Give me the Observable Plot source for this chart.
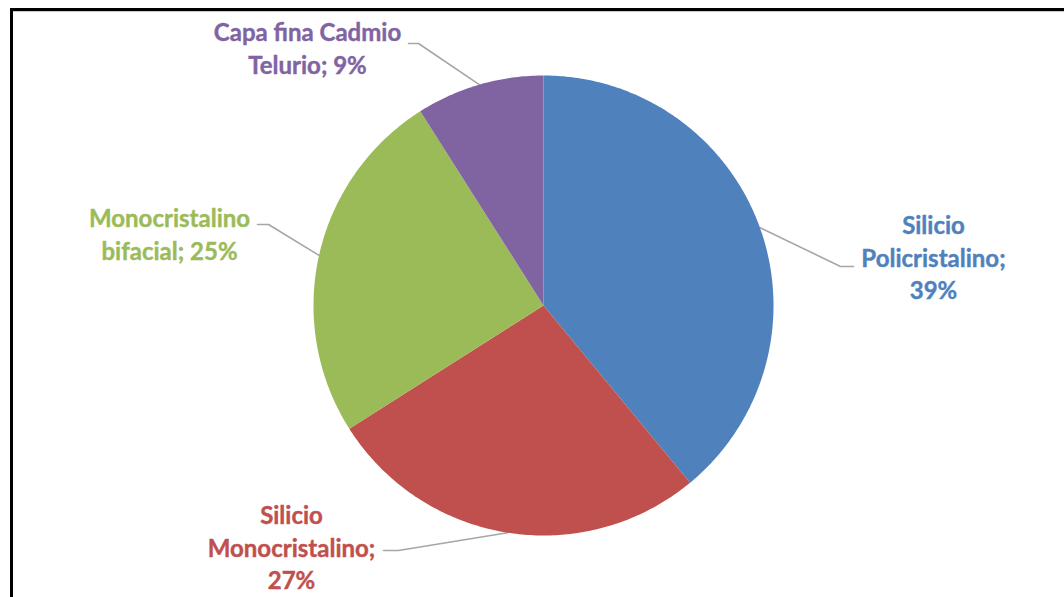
<!DOCTYPE html>
<html>
<head>
<meta charset="utf-8">
<script src="https://cdn.jsdelivr.net/npm/d3@7"></script>
<script src="https://cdn.jsdelivr.net/npm/@observablehq/plot@0.6"></script>
<style>
  html, body { margin: 0; padding: 0; background: #fff; }
  #wrap { position: relative; width: 1064px; height: 597px; overflow: hidden; }
  #frame { position: absolute; left: 10px; top: 8px; width: 1200px; height: 700px;
           border-top: 3px solid #000; border-left: 3px solid #000; box-sizing: border-box; }
  #frame2 { position: absolute; left: 13px; top: 11px; width: 1200px; height: 1px; background: #c8c8c8; }
  #chart { position: absolute; left: 0; top: 0; }
</style>
</head>
<body>
<div id="wrap">
  <div id="chart"></div>
  <div id="frame"></div>
  <div id="frame2"></div>
</div>
<script>
// ---- data ----
const categories = ["Silicio Policristalino", "Silicio Monocristalino", "Monocristalino bifacial", "Capa fina Cadmio Telurio"];
const values = [39, 27, 25, 9];
const labelLines = [
  ["Silicio", "Policristalino;", "39%"],
  ["Silicio", "Monocristalino;", "27%"],
  ["Monocristalino", "bifacial; 25%"],
  ["Capa fina Cadmio", "Telurio; 9%"]
];
const colors = ["#4F81BD", "#C0504D", "#9BBB59", "#8064A2"];

// ---- layout ----
const W = 1064, H = 597;
const cx = 543, cy = 305, R = 230;
const labelLayout = [
  {x: 933, y: 226, lx: 853, ly: 266, bx: 840},
  {x: 291, y: 516, lx: 383, ly: 550, bx: 398},
  {x: 169, y: 219, lx: 257, ly: 224, bx: 268},
  {x: 307, y: 33,  lx: 408, ly: 43,  bx: 418}
];

const pie = d3.pie().sort(null).value(d => d.value).startAngle(0).endAngle(2 * Math.PI);
const rows = categories.map((c, i) => ({name: c, value: values[i], color: colors[i], i}));
const arcs = pie(rows);

const px = a => cx + R * Math.sin(a);
const py = a => cy - R * Math.cos(a);

const slicePts = [];
arcs.forEach(a => {
  slicePts.push({name: a.data.name, x: cx, y: cy});
  const n = Math.max(4, Math.ceil((a.endAngle - a.startAngle) * 80));
  for (let k = 0; k <= n; k++) {
    const t = a.startAngle + (a.endAngle - a.startAngle) * k / n;
    slicePts.push({name: a.data.name, x: px(t), y: py(t)});
  }
});

// leader lines: label end -> short horizontal -> slice mid-angle on the rim
const leaderPts = [];
arcs.forEach((a, i) => {
  const L = labelLayout[i];
  const t = (a.startAngle + a.endAngle) / 2;
  leaderPts.push({name: a.data.name, x: L.lx, y: L.ly});
  leaderPts.push({name: a.data.name, x: L.bx, y: L.ly});
  leaderPts.push({name: a.data.name, x: px(t), y: py(t)});
});

const labelRows = [];
labelLines.forEach((lines, i) => {
  lines.forEach((s, j) => {
    labelRows.push({name: categories[i], text: s, x: labelLayout[i].x, y: labelLayout[i].y + j * 32.5, color: colors[i]});
  });
});

const plot = Plot.plot({
  width: W, height: H,
  margin: 0,
  x: {domain: [0, W], range: [0, W], axis: null},
  y: {domain: [0, H], range: [0, H], axis: null},
  color: {domain: categories, range: colors},
  style: {background: "transparent"},
  marks: [
    Plot.line(leaderPts, {x: "x", y: "y", z: "name", stroke: "#A6A6A6", strokeWidth: 1.6, curve: "linear"}),
    Plot.line(slicePts, {x: "x", y: "y", z: "name", fill: "name", stroke: "none", curve: "linear"}),
    Plot.text(labelRows, {x: "x", y: "y", text: "text", fill: d => d.color, stroke: d => d.color, strokeWidth: 0.4,
      fontSize: 24, fontWeight: "bold", fontFamily: "Lato, 'Open Sans', sans-serif", textAnchor: "middle"})
  ]
});
document.getElementById("chart").appendChild(plot);
</script>
</body>
</html>
